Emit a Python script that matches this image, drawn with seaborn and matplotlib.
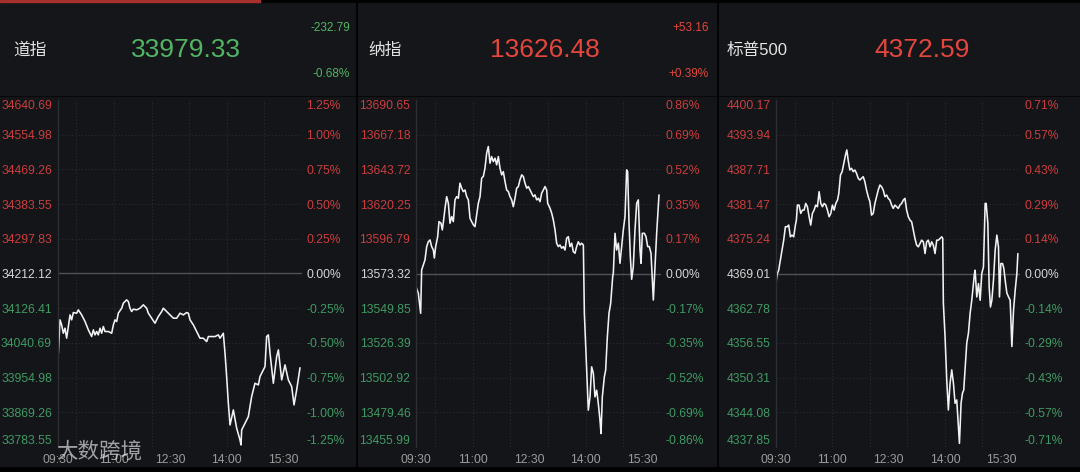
import matplotlib
matplotlib.use('Agg')
import matplotlib.pyplot as plt
import seaborn as sns
from matplotlib.patches import Rectangle

# ---- data (minutes after 09:30, index level) ----
dow_min = [0, 1.3, 4, 6.6, 9.3, 12, 14.6, 17.3, 20, 22.6,
           25.3, 30.6, 33.2, 38.5, 43.9, 49.2, 54.5, 57.2, 59.8, 62.5,
           65.1, 67.8, 70.5, 73.1, 75.8, 81.1, 86.4, 89.1, 91.7, 94.4,
           97.0, 102.4, 105.0, 110.3, 113.0, 115.6, 118.3, 121.0, 126.3, 131.6,
           136.9, 142.2, 144.9, 150.2, 155.5, 160.8, 166.2, 168.8, 174.1, 179.5,
           184.8, 190.1, 195.4, 200.7, 206.0, 208.7, 211.4, 216.7, 222.0, 227.3,
           232.6, 238.0, 240.6, 245.9, 251.3, 256.6, 259.2, 264.5, 267.2, 269.8,
           272.5, 275.2, 280.5, 285.8, 291.1, 292.7, 293.8, 299.1, 304.4, 309.7,
           315.0, 320.4, 323.0, 328.3, 331.0, 333.6, 336.3, 339.0, 344.3, 349.6,
           352.3, 357.6, 362.9, 368.2, 373.5, 377.3, 381.5, 386.8]
dow_px = [34044.0, 34015.2, 34097.6, 34085.2, 34064.6, 34077.0, 34052.3, 34081.1, 34109.9, 34097.6,
          34115.7, 34114.1, 34122.3, 34109.9, 34093.5, 34072.9, 34056.4, 34072.9, 34060.5, 34068.8,
          34060.5, 34077.0, 34064.6, 34081.1, 34068.8, 34068.8, 34064.6, 34085.2, 34097.6, 34093.5,
          34114.1, 34126.4, 34138.8, 34147.0, 34142.9, 34126.4, 34118.2, 34124.0, 34122.3, 34126.4,
          34134.7, 34126.4, 34114.1, 34101.7, 34089.4, 34105.8, 34118.2, 34126.4, 34118.2, 34109.9,
          34101.7, 34101.7, 34114.1, 34109.9, 34115.7, 34114.1, 34097.6, 34085.2, 34068.8, 34052.3,
          34052.3, 34044.0, 34056.4, 34056.4, 34056.4, 34060.5, 34052.3, 34064.6, 34015.2, 33957.5,
          33891.6, 33838.0, 33875.1, 33829.8, 33801.0, 33788.6, 33825.7, 33842.2, 33858.6, 33908.1,
          33941.0, 33936.9, 33957.5, 33974.0, 33982.2, 34056.4, 34060.5, 34015.2, 33941.0, 34007.0,
          34023.4, 33949.3, 33986.4, 33949.3, 33932.8, 33887.5, 33924.6, 33979.33]

ndx_min = [0, 3.7, 7.4, 9.0, 14.3, 17.0, 19.6, 22.3, 24.9, 27.6,
           29.2, 31.3, 34.5, 36.6, 39.8, 41.9, 44.0, 46.2, 48.8, 51.5,
           54.1, 56.8, 59.4, 62.1, 64.7, 67.4, 70.0, 72.7, 75.3, 78.0,
           80.7, 83.3, 86.0, 88.6, 91.3, 93.9, 96.6, 99.2, 101.9, 104.5,
           107.2, 109.8, 112.5, 115.1, 117.8, 120.4, 123.1, 125.8, 128.4, 131.1,
           133.7, 136.4, 139.0, 141.7, 144.3, 147.0, 149.6, 152.3, 154.9, 157.6,
           160.2, 162.9, 165.5, 168.2, 170.9, 173.5, 176.2, 178.8, 181.5, 184.1,
           186.8, 189.4, 192.1, 194.7, 197.4, 200.0, 202.7, 205.3, 208.0, 209.6,
           213.3, 216.0, 218.6, 221.3, 223.9, 226.6, 229.2, 231.9, 234.5, 237.2,
           239.8, 242.5, 245.1, 247.8, 250.4, 253.1, 255.7, 258.4, 261.1, 263.7,
           266.4, 268.0, 270.6, 274.3, 277.0, 279.6, 282.3, 284.9, 287.6, 290.2,
           292.9, 294.5, 296.6, 299.8, 301.9, 304.6, 307.2, 309.9, 313.1, 314.1,
           316.8, 319.4, 322.1, 324.7, 327.4, 330.0, 332.7, 335.3, 336.9, 339.1,
           341.2, 343.3, 345.9, 348.6, 351.3, 353.9, 356.6, 358.2, 360.3, 363.5,
           366.1, 368.8, 371.4, 374.1, 376.2, 377.8, 380.4, 383.1, 386.8]
ndx_px = [13564.4, 13559.9, 13546.4, 13575.7, 13582.5, 13591.5, 13594.8, 13596.0, 13591.5, 13589.2,
          13583.8, 13591.5, 13598.2, 13608.4, 13607.3, 13602.8, 13609.5, 13617.5, 13625.3, 13620.8,
          13607.3, 13611.8, 13608.4, 13623.1, 13625.3, 13624.2, 13634.4, 13631.0, 13628.7, 13629.8,
          13625.3, 13623.1, 13610.7, 13608.4, 13606.2, 13605.0, 13612.9, 13620.8, 13625.3, 13637.8,
          13639.0, 13644.5, 13654.7, 13659.2, 13647.9, 13652.4, 13649.0, 13651.3, 13646.8, 13652.4,
          13644.5, 13640.0, 13642.2, 13635.5, 13629.8, 13628.7, 13625.3, 13623.1, 13618.5, 13624.2,
          13631.0, 13632.1, 13636.6, 13640.0, 13638.9, 13634.4, 13631.0, 13632.1, 13629.8, 13627.6,
          13625.3, 13626.5, 13623.1, 13624.2, 13621.9, 13627.6, 13629.8, 13632.1, 13629.8, 13620.8,
          13617.5, 13614.1, 13609.5, 13602.8, 13593.8, 13591.5, 13592.6, 13590.4, 13591.5, 13589.2,
          13597.2, 13598.2, 13591.5, 13593.8, 13588.1, 13587.0, 13591.5, 13594.8, 13592.6, 13593.8,
          13592.6, 13546.4, 13519.3, 13480.9, 13489.9, 13510.2, 13505.8, 13489.9, 13494.4, 13485.4,
          13474.1, 13465.1, 13489.9, 13503.4, 13508.0, 13530.5, 13546.4, 13553.2, 13571.2, 13573.5,
          13600.5, 13589.2, 13593.8, 13580.2, 13591.5, 13602.8, 13611.8, 13643.4, 13642.2, 13607.3,
          13584.7, 13569.4, 13577.9, 13602.8, 13620.8, 13623.1, 13589.2, 13580.2, 13600.5, 13600.5,
          13598.2, 13591.5, 13591.5, 13587.0, 13568.9, 13555.4, 13577.9, 13600.5, 13626.48]

spx_min = [0, 0.5, 2.1, 4.3, 6.9, 9.6, 12.3, 15.0, 17.6, 20.3,
           23.0, 25.6, 28.3, 31.0, 32.6, 34.2, 36.8, 39.5, 42.2, 44.9,
           47.5, 50.2, 52.9, 55.5, 58.2, 60.9, 63.5, 66.2, 68.9, 71.6,
           74.2, 76.9, 79.6, 82.2, 84.9, 87.6, 90.2, 92.9, 95.6, 98.3,
           100.4, 103.1, 105.7, 108.4, 111.1, 113.2, 115.3, 118.0, 120.7, 123.4,
           126.0, 128.7, 131.4, 134.0, 136.7, 139.4, 142.0, 144.7, 147.4, 150.1,
           152.7, 155.4, 158.1, 160.7, 163.4, 166.1, 168.7, 171.4, 174.1, 176.8,
           179.4, 182.1, 184.8, 187.4, 190.1, 192.8, 195.4, 198.1, 200.8, 203.5,
           206.1, 208.8, 211.5, 214.1, 216.8, 219.5, 222.1, 224.8, 227.5, 230.2,
           232.8, 235.5, 238.2, 240.8, 243.5, 246.2, 248.8, 251.5, 254.2, 256.9,
           259.5, 262.2, 264.9, 266.5, 267.5, 270.2, 272.9, 275.5, 278.2, 280.9,
           283.6, 286.2, 288.9, 291.6, 293.2, 295.8, 298.0, 300.1, 302.2, 304.9,
           307.6, 310.3, 312.9, 315.6, 317.2, 318.3, 320.9, 323.6, 326.3, 328.9,
           331.6, 334.3, 335.9, 338.6, 340.7, 342.8, 345.0, 347.6, 350.3, 353.0,
           355.6, 357.2, 359.4, 362.1, 364.2, 366.3, 369.0, 371.7, 374.3, 377.0,
           379.7, 382.3, 385.0, 386.6]
spx_px = [4366.9, 4367.8, 4369.0, 4369.6, 4371.4, 4373.2, 4375.0, 4377.4, 4377.4, 4377.7,
          4375.6, 4375.9, 4375.6, 4377.7, 4378.6, 4381.3, 4381.3, 4379.8, 4380.4, 4380.4,
          4381.6, 4381.0, 4379.2, 4377.7, 4379.8, 4380.4, 4381.3, 4381.0, 4383.7, 4381.6,
          4381.0, 4381.6, 4381.3, 4380.4, 4379.2, 4379.8, 4381.3, 4380.4, 4381.6, 4382.2,
          4383.4, 4386.7, 4387.3, 4388.8, 4390.3, 4391.2, 4389.4, 4387.6, 4387.9, 4387.3,
          4387.6, 4387.0, 4386.1, 4385.8, 4386.1, 4386.4, 4385.5, 4384.0, 4382.8, 4381.9,
          4379.5, 4379.8, 4381.6, 4382.8, 4384.0, 4384.9, 4384.6, 4384.0, 4382.8, 4383.1,
          4382.5, 4382.2, 4381.3, 4380.7, 4381.3, 4381.0, 4380.7, 4381.3, 4381.6, 4382.2,
          4382.5, 4380.4, 4379.2, 4378.6, 4378.3, 4376.8, 4375.3, 4374.1, 4373.8, 4374.4,
          4375.0, 4374.7, 4372.6, 4374.7, 4375.0, 4373.8, 4374.7, 4374.1, 4372.6, 4375.0,
          4375.0, 4375.3, 4375.6, 4375.3, 4363.7, 4357.7, 4349.9, 4344.5, 4349.3, 4351.7,
          4349.3, 4345.7, 4346.3, 4341.5, 4338.5, 4345.7, 4347.5, 4348.1, 4351.7, 4356.5,
          4358.3, 4361.9, 4364.2, 4367.2, 4369.0, 4369.6, 4364.8, 4367.2, 4364.2, 4369.0,
          4370.2, 4381.6, 4381.6, 4378.0, 4366.6, 4363.0, 4364.2, 4367.8, 4373.2, 4375.9,
          4373.8, 4364.8, 4370.8, 4370.8, 4369.9, 4367.8, 4365.5, 4364.8, 4364.2, 4355.9,
          4362.5, 4366.0, 4369.0, 4372.59]

# axis ticks, top to bottom
dow_ticks = [34640.69, 34554.98, 34469.26, 34383.55, 34297.83, 34212.12,
             34126.41, 34040.69, 33954.98, 33869.26, 33783.55]
dow_pct = ['1.25%', '1.00%', '0.75%', '0.50%', '0.25%', '0.00%',
           '-0.25%', '-0.50%', '-0.75%', '-1.00%', '-1.25%']
ndx_ticks = [13690.65, 13667.18, 13643.72, 13620.25, 13596.79, 13573.32,
             13549.85, 13526.39, 13502.92, 13479.46, 13455.99]
ndx_pct = ['0.86%', '0.69%', '0.52%', '0.35%', '0.17%', '0.00%',
           '-0.17%', '-0.35%', '-0.52%', '-0.69%', '-0.86%']
spx_ticks = [4400.17, 4393.94, 4387.71, 4381.47, 4375.24, 4369.01,
             4362.78, 4356.55, 4350.31, 4344.08, 4337.85]
spx_pct = ['0.71%', '0.57%', '0.43%', '0.29%', '0.14%', '0.00%',
           '-0.14%', '-0.29%', '-0.43%', '-0.57%', '-0.71%']

names = ['道指', '纳指', '标普500']
last_values = ['33979.33', '13626.48', '4372.59']
changes = ['-232.79', '+53.16', None]
change_pcts = ['-0.68%', '+0.39%', None]

time_ticks = [0, 90, 180, 270, 360]
time_labels = ['09:30', '11:00', '12:30', '14:00', '15:30']
hour_marks = [30, 90, 150, 210, 270, 330, 390]

# ---- style ----
sns.set_theme(style='dark')
plt.rcParams['font.family'] = ['Liberation Sans', 'Noto Sans CJK SC', 'DejaVu Sans']

RED = '#e5463c'
GREEN = '#52b563'
TICK_RED = '#cc3d3d'
TICK_GREEN = '#3f9a63'
HEAD_BG = '#141619'
CHART_BG = '#131519'
GRID = '#2a2c31'

W, H = 1080, 472
fig = plt.figure(figsize=(10.8, 4.72), dpi=100, facecolor='#000000')


def fx(x):
    return x / W


def fy(y):
    return 1 - y / H


# column layout in pixels: (col left, col right, plot left, plot right, name x, value x, change x)
layout = [
    (0, 355, 57.5, 302, 13, 186, 350),
    (358, 716, 416, 661, 368, 545, 709),
    (719, 1080, 776, 1020, 727, 922, None),
]
series = [(dow_min, dow_px, dow_ticks, dow_pct),
          (ndx_min, ndx_px, ndx_ticks, ndx_pct),
          (spx_min, spx_px, spx_ticks, spx_pct)]

fig.add_artist(Rectangle((0, fy(2)), 260 / W, 2 / H, transform=fig.transFigure,
                         color='#a8302c', zorder=1))

for i, (c0, c1, p0, p1, nx, vx, cx) in enumerate(layout):
    mins, pxs, ticks, pcts = series[i]
    base = ticks[5]
    col = RED if pxs[-1] >= base else GREEN

    # header and chart backgrounds
    fig.add_artist(Rectangle((fx(c0), fy(95)), (c1 - c0) / W, 92 / H,
                             transform=fig.transFigure, color=HEAD_BG, zorder=0))
    fig.add_artist(Rectangle((fx(c0), fy(466)), (c1 - c0) / W, 369 / H,
                             transform=fig.transFigure, color=CHART_BG, zorder=0))

    fig.text(fx(nx), fy(50), names[i], fontsize=12, color='#e4e4e4', va='center', ha='left')
    fig.text(fx(vx), fy(50), last_values[i], fontsize=19, color=col, va='center', ha='center')
    if changes[i] is not None:
        fig.text(fx(cx), fy(28), changes[i], fontsize=8.5, color=col, va='center', ha='right')
        fig.text(fx(cx), fy(74), change_pcts[i], fontsize=8.5, color=col, va='center', ha='right')

    ax = fig.add_axes([fx(p0), fy(447), (p1 - p0) / W, 347 / H])
    ax.set_facecolor(CHART_BG)
    sns.lineplot(x=mins, y=pxs, ax=ax, color='#f2f2f2', linewidth=1.15, estimator=None)

    ax.set_xlim(0, 390)
    ax.set_ylim(ticks[-1], ticks[0])
    asc = ticks[::-1]
    ax.set_yticks(asc)
    ax.set_yticklabels([f'{t:.2f}' for t in asc])
    ax.set_xticks(time_ticks)
    ax.set_xticklabels(time_labels)
    ax.set_xlabel('')
    ax.set_ylabel('')

    ax.grid(False)
    for t in asc[1:-1]:
        if t != base:
            ax.axhline(t, color=GRID, lw=0.8, ls=(0, (1, 2)), zorder=0)
    for m in hour_marks:
        ax.axvline(m, color=GRID, lw=0.8, ls=(0, (1, 2)), zorder=0)
    ax.axhline(base, color='#505257', lw=1.0, zorder=1)

    for s in ax.spines.values():
        s.set_visible(False)
    ax.spines['left'].set_visible(True)
    ax.spines['left'].set_color('#2c2e33')
    ax.spines['left'].set_linewidth(1.0)

    ax.tick_params(axis='y', length=0, pad=4, labelsize=8.7)
    ax.tick_params(axis='x', length=0, pad=5, labelsize=8.7, labelcolor='#9b9b9b')

    tw = ax.twinx()
    tw.set_ylim(ax.get_ylim())
    tw.set_yticks(asc)
    tw.set_yticklabels(pcts[::-1])
    tw.grid(False)
    for s in tw.spines.values():
        s.set_visible(False)
    tw.tick_params(axis='y', length=0, pad=3, labelsize=8.7)

    n = len(asc)
    for k, (tl, tr) in enumerate(zip(ax.yaxis.get_major_ticks(), tw.yaxis.get_major_ticks())):
        t = asc[k]
        c = TICK_RED if t > base else (TICK_GREEN if t < base else '#d6d6d6')
        for lab in (tl.label1, tl.label2, tr.label1, tr.label2):
            lab.set_color(c)
            if k == 0:
                lab.set_va('bottom')
            elif k == n - 1:
                lab.set_va('top')

# watermark (sits over the first axis labels, as in the source screenshot)
fig.text(fx(56), fy(452), '大数跨境', fontsize=15.5, color='white', alpha=0.6,
         va='center', ha='left', family=['Noto Sans CJK SC'])

fig.savefig('out.png', dpi=100, facecolor=fig.get_facecolor())
